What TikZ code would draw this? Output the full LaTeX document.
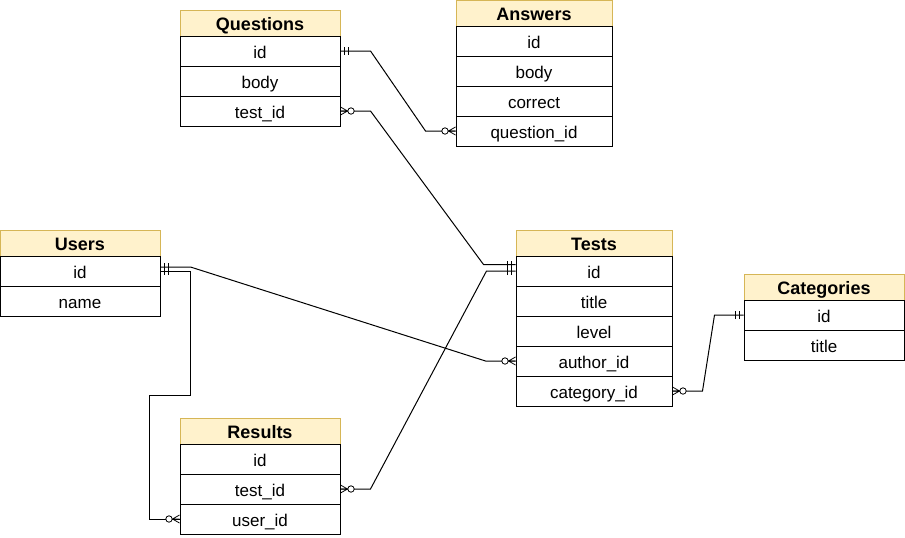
\documentclass[tikz,border=0pt]{standalone}
\usepackage{fontspec}
\setmainfont{Liberation Sans}
\usetikzlibrary{calc}

\definecolor{headfill}{HTML}{FFF2CC}
\definecolor{headline}{HTML}{D6B656}

\tikzset{
  head/.style={draw=headline, fill=headfill, minimum width=#1, minimum height=26pt,
    inner sep=0pt, text height=14pt, text depth=0pt, font=\fontsize{18}{20}\selectfont\bfseries},
  head/.default=160pt,
  field/.style={draw, minimum width=#1, minimum height=30pt, inner sep=0pt,
    text height=15pt, text depth=0pt, font=\fontsize{17}{20}\selectfont},
  field/.default=160pt,
  onemark/.pic={\draw[line width=0.8pt] (4,-4) -- (4,4) (8,-4) -- (8,4);},
  manymark/.pic={\draw[line width=0.8pt] (0,-4) -- (7,0) -- (0,4) (0,0) -- (7,0);
    \draw[line width=0.8pt, fill=white] (10.5,0) circle (3.2pt);}
}

\begin{document}
\begin{tikzpicture}[x=1pt, y=-1pt, line width=1pt]
      \useasboundingbox (0,0) rectangle (905,538);

      \node[head] (q) at (260,23) {Questions};
      \node[field] (qid) at (260,51) {id};
      \node[field] (qbody) at (260,81) {body};
      \node[field] (qtest) at (260,111) {test\_id};

      \node[head=156pt] (a) at (534,13) {Answers};
      \node[field=156pt] (aid) at (534,41) {id};
      \node[field=156pt] (abody) at (534,71) {body};
      \node[field=156pt] (acorrect) at (534,101) {correct};
      \node[field=156pt] (aq) at (534,131) {question\_id};

      \node[head] (u) at (80,243) {Users};
      \node[field] (uid) at (80,271) {id};
      \node[field] (uname) at (80,301) {name};

      \node[head=156pt] (t) at (594,243) {Tests};
      \node[field=156pt] (tid) at (594,271) {id};
      \node[field=156pt] (ttitle) at (594,301) {title};
      \node[field=156pt] (tlevel) at (594,331) {level};
      \node[field=156pt] (tauthor) at (594,361) {author\_id};
      \node[field=156pt] (tcat) at (594,391) {category\_id};

      \node[head] (c) at (824,287) {Categories};
      \node[field] (cid) at (824,315) {id};
      \node[field] (ctitle) at (824,345) {title};

      \node[head] (r) at (260,431) {Results};
      \node[field] (rid) at (260,459) {id};
      \node[field] (rtest) at (260,489) {test\_id};
      \node[field] (ruser) at (260,519) {user\_id};

      \coordinate (tq) at ([yshift=6.5pt]tid.west);
      \coordinate (ut) at ([yshift=4pt]uid.east);

      \draw (qid.east) -- ++(30,0) -- ($(aq.west)+(-30,0)$) -- (aq.west);
      \draw (qtest.east) -- ++(30,0) -- ($(tq)+(-32,0)$) -- (tq);
      \draw (rtest.east) -- ++(30,0) -- ($(tid.west)+(-29,0)$) -- (tid.west);
      \draw (ut) -- ++(30,0) -- ($(tauthor.west)+(-30,0)$) -- (tauthor.west);
      \draw (uid.east) -- ++(30,0) -- ++(0,124) -| ($(ruser.west)+(-30,0)$) -- (ruser.west);
      \draw (tcat.east) -- ++(30,0) -- ($(cid.west)+(-29,0)$) -- (cid.west);

      \pic at (qid.east) {onemark};
      \pic[rotate=180] at (aq.west) {manymark};
      \pic at (qtest.east) {manymark};
      \pic[rotate=180] at (tq) {onemark};
      \pic[rotate=180] at (tid.west) {onemark};
      \pic at (rtest.east) {manymark};
      \pic at (ut) {onemark};
      \pic at (uid.east) {onemark};
      \pic[rotate=180] at (tauthor.west) {manymark};
      \pic[rotate=180] at (ruser.west) {manymark};
      \pic at (tcat.east) {manymark};
      \pic[rotate=180] at (cid.west) {onemark};
\end{tikzpicture}
\end{document}
